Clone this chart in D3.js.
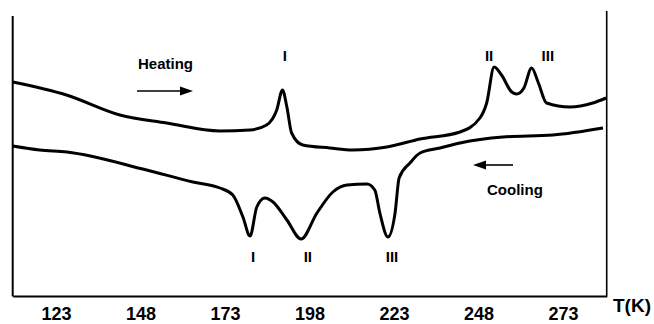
<!DOCTYPE html>
<html>
<head>
<meta charset="utf-8">
<script src="https://cdn.jsdelivr.net/npm/d3@7"></script>
<style>
  html, body { margin: 0; padding: 0; background: #fff; }
  svg text { font-family: "Liberation Sans", Arial, Helvetica, sans-serif; font-weight: bold; fill: #000; }
</style>
</head>
<body>
<div id="chart"></div>
<script>
// DSC trace (temperature in K, heat flow in arbitrary units)
const heatingT = [110.2, 126.1, 141.9, 155.7, 171.5, 180.4, 185.3, 188.3, 190.0, 191.3, 192.7, 196.0, 204.0,
  210.8, 220.9, 230.7, 242.5, 248.4, 250.4, 252.6, 254.8, 257.8, 259.3, 261.4, 263.7, 265.7, 268.1, 275.0, 281.8, 285.7];
const heatingV = [214, 201, 181, 173, 165, 166, 171, 186, 206, 189, 163, 151, 148,
  146, 149, 157, 164, 178, 193, 229, 221, 204, 202, 208, 228, 213, 193, 189, 193, 198];

const coolingT = [110.2, 118.2, 126.2, 149.8, 163.5, 171.5, 175.3, 178.3, 180.4, 182.4, 184.8, 187.2, 191.3,
  195.5, 200.2, 204.9, 209.1, 215.0, 217.3, 218.8, 221.2, 223.3, 224.5, 227.7, 230.7, 236.6, 242.5, 255.2, 270.0, 284.8];
const coolingV = [150, 146, 144, 126, 114, 108, 101, 79, 60, 89, 98, 94, 76,
  57, 83, 104, 111, 112, 106, 83, 59, 83, 118, 133, 143, 148, 153, 159, 161, 168];

const tickValues = [123, 148, 173, 198, 223, 248, 273];

// transition labels: text and temperature of each peak
const heatLabels = ['I', 'II', 'III'];
const heatLabelT = [190.7, 251.1, 268.5];
const coolLabels = ['I', 'II', 'III'];
const coolLabelT = [181.3, 197.5, 222.4];

const width = 654, height = 324;

const svg = d3.select('#chart')
  .append('svg')
  .attr('width', width)
  .attr('height', height);

const x = d3.scaleLinear().domain([110.2, 285.9]).range([12.7, 606.7]);
const y = d3.scaleLinear().domain([0, 280]).range([296, 16]);

// frame: left and right verticals
svg.append('line')
  .attr('x1', x(110.2)).attr('x2', x(110.2))
  .attr('y1', 16).attr('y2', 296.5)
  .attr('stroke', '#000').attr('stroke-width', 2);
svg.append('line')
  .attr('x1', x(285.9)).attr('x2', x(285.9))
  .attr('y1', 11).attr('y2', 296.5)
  .attr('stroke', '#000').attr('stroke-width', 1.6);

// x-axis
const xAxis = svg.append('g')
  .attr('transform', 'translate(0,296)')
  .call(d3.axisBottom(x).tickValues(tickValues).tickSize(0).tickSizeOuter(0).tickFormat(d3.format('d')));
xAxis.select('.domain').attr('stroke', '#000').attr('stroke-width', 2);
xAxis.selectAll('text')
  .attr('y', 24).attr('dy', 0)
  .style('font-size', '18px')
  .style('font-family', '"Liberation Sans", Arial, sans-serif')
  .style('font-weight', 'bold')
  .attr('fill', '#000');

svg.append('text')
  .attr('x', 613).attr('y', 312)
  .style('font-size', '19px')
  .text('T(K)');

// curves
const line = d3.line()
  .x(d => x(d[0]))
  .y(d => y(d[1]))
  .curve(d3.curveMonotoneX);

svg.append('path')
  .datum(heatingT.map((t, i) => [t, heatingV[i]]))
  .attr('fill', 'none')
  .attr('stroke', '#000')
  .attr('stroke-width', 3)
  .attr('stroke-linejoin', 'round')
  .attr('d', line);

svg.append('path')
  .datum(coolingT.map((t, i) => [t, coolingV[i]]))
  .attr('fill', 'none')
  .attr('stroke', '#000')
  .attr('stroke-width', 3)
  .attr('stroke-linejoin', 'round')
  .attr('d', line);

// peak labels
svg.selectAll('.heat-label')
  .data(heatLabels)
  .enter().append('text')
  .attr('class', 'heat-label')
  .attr('x', (d, i) => x(heatLabelT[i]))
  .attr('y', 61)
  .attr('text-anchor', 'middle')
  .style('font-size', '15px')
  .text(d => d);

svg.selectAll('.cool-label')
  .data(coolLabels)
  .enter().append('text')
  .attr('class', 'cool-label')
  .attr('x', (d, i) => x(coolLabelT[i]))
  .attr('y', 262)
  .attr('text-anchor', 'middle')
  .style('font-size', '15px')
  .text(d => d);

// direction arrows
function arrow(x1, x2, yy) {
  const dir = x2 > x1 ? 1 : -1;
  const head = 13;
  svg.append('line')
    .attr('x1', x1).attr('x2', x2 - dir * head + dir)
    .attr('y1', yy).attr('y2', yy)
    .attr('stroke', '#000').attr('stroke-width', 1.6);
  svg.append('path')
    .attr('d', `M${x2},${yy} L${x2 - dir * head},${yy - 4.5} L${x2 - dir * head},${yy + 4.5} Z`)
    .attr('fill', '#000');
}

svg.append('text').attr('x', 138).attr('y', 69).style('font-size', '15px').text('Heating');
arrow(137, 193, 91);

svg.append('text').attr('x', 487).attr('y', 195).style('font-size', '15px').text('Cooling');
arrow(513, 473, 165);
</script>
</body>
</html>
